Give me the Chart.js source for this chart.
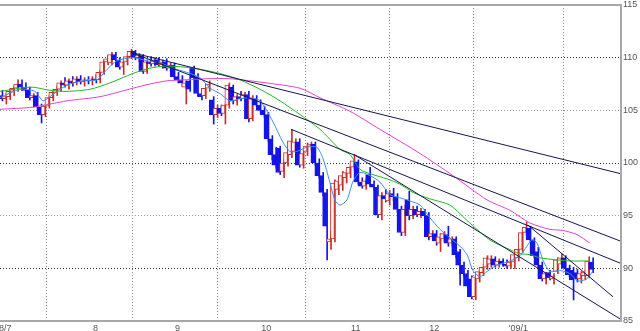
<!DOCTYPE html>
<html>
<head>
<meta charset="utf-8">
<script src="https://cdn.jsdelivr.net/npm/chart.js@4"></script>
<style>
  html, body { margin: 0; background: #fff; }
  #wrap { width: 640px; height: 331px; }
</style>
</head>
<body>
<div id="wrap"><canvas id="chart"></canvas></div>
<script>
// daily candles, Jul 2008 .. mid Jan 2009 (index = trading day)
const opens  = [106.4,106.1,106.3,106.8,107.1,107.5,107.2,106.9,106.2,106.4,105.3,104.6,105.4,106.2,106.7,107.0,107.6,107.4,107.8,107.6,108.0,107.7,107.9,
  107.8,108.0,107.9,108.6,109.6,109.5,110.3,109.8,109.1,109.6,110.1,110.6,110.0,110.2,108.7,109.6,109.4,109.8,109.3,109.6,109.0,
  109.3,108.2,107.9,107.2,107.8,109.0,108.2,106.6,106.4,107.1,106.0,104.6,105.2,104.7,105.5,107.2,105.9,106.3,106.1,106.5,104.2,106.1,
  105.5,105.0,104.6,102.3,100.8,101.4,99.2,100.0,100.8,101.1,102.0,99.8,101.1,101.6,101.8,100.0,98.8,97.2,92.5,92.8,97.5,97.9,98.6,
  99.0,99.6,100.1,98.2,97.8,98.9,98.0,97.7,95.1,96.9,96.4,97.1,96.8,95.6,93.4,96.5,95.0,95.6,95.1,95.4,
  95.0,93.0,93.3,92.4,92.8,93.2,92.4,92.8,91.6,90.3,89.5,89.0,87.3,89.0,89.6,90.1,90.4,90.9,90.3,90.7,90.4,90.2,90.6,
  91.0,91.8,93.4,93.8,92.7,91.6,90.3,89.0,89.6,89.0,89.7,90.4,91.0,90.0,89.8,89.6,89.0,89.3,89.3,90.6];
const highs  = [106.9,106.6,107.0,107.3,107.9,107.9,107.6,107.2,106.6,106.7,105.6,105.6,106.4,106.9,107.3,107.8,108.1,108.0,108.2,108.2,108.3,108.1,108.2,
  108.2,108.4,108.8,109.8,110.2,110.5,110.5,110.0,109.8,110.3,110.8,110.7,110.4,110.3,109.8,110.1,110.0,110.0,109.8,109.9,109.5,
  109.5,108.6,108.3,107.8,108.1,109.2,108.5,107.1,107.3,107.8,106.3,105.5,105.5,105.6,107.6,107.4,106.5,106.8,106.7,106.8,106.4,106.4,
  106.0,105.4,104.8,102.6,101.5,101.6,100.3,101.4,103.2,102.3,102.3,101.2,101.9,102.0,102.0,100.4,99.1,97.5,93.5,98.4,98.6,99.2,99.4,
  99.8,100.8,100.3,98.6,98.5,99.6,98.3,97.9,97.2,97.5,97.4,97.6,97.1,95.9,96.0,97.3,95.9,95.9,95.7,95.6,
  95.3,93.6,93.6,93.3,93.5,94.0,93.0,93.0,91.8,90.6,89.8,89.3,89.5,89.9,90.4,91.2,91.2,91.1,90.9,90.9,90.8,90.9,91.6,
  92.0,93.7,94.4,94.0,92.9,92.0,90.6,89.6,89.8,89.5,91.0,91.4,91.2,90.3,90.1,89.9,89.7,89.8,91.1,91.0];
const lows   = [105.9,105.6,106.0,106.4,106.8,106.9,106.6,106.0,105.8,105.0,103.8,104.4,105.2,105.9,106.4,106.8,107.2,107.0,107.3,107.4,107.5,107.3,107.5,
  107.4,107.6,107.6,108.4,109.3,109.3,109.6,108.9,108.4,109.3,109.9,109.8,109.6,108.5,108.5,109.2,109.2,109.2,109.0,108.8,108.7,
  108.0,107.6,107.3,105.6,106.8,107.9,106.4,106.0,106.1,106.8,103.7,104.3,104.5,103.7,105.2,105.6,105.5,105.9,105.9,103.9,104.0,105.3,
  104.9,104.3,102.0,100.3,99.5,98.9,98.6,99.7,100.5,100.7,99.6,99.5,100.7,101.2,99.8,98.6,96.9,90.8,91.8,92.5,97.0,97.4,98.1,
  98.6,99.3,98.0,97.6,97.5,97.8,97.4,94.8,94.6,96.3,96.0,96.4,95.3,93.1,93.1,94.6,94.7,94.9,94.8,94.8,
  92.7,92.7,92.2,91.6,92.5,92.1,92.1,91.0,88.4,89.2,88.0,87.1,87.0,88.7,89.3,89.9,90.1,90.1,90.1,90.2,90.0,90.0,90.0,
  90.7,91.5,93.1,92.5,91.0,90.0,88.8,88.5,88.9,88.5,89.5,90.2,89.8,89.2,87.0,88.7,88.6,88.9,89.1,89.6];
const closes = [106.1,106.3,106.8,107.1,107.5,107.2,106.9,106.2,106.4,105.3,104.6,105.4,106.2,106.7,107.0,107.6,107.4,107.8,107.6,108.0,107.7,107.9,107.8,
  108.0,107.9,108.6,109.6,109.9,110.3,109.8,109.1,109.6,110.1,110.6,110.0,110.2,108.7,109.6,109.4,109.8,109.3,109.6,109.0,109.3,
  108.2,107.9,107.6,107.6,107.0,108.1,106.6,106.3,107.1,107.5,104.6,105.2,104.7,105.5,107.4,105.9,106.3,106.1,106.5,104.2,106.1,105.5,
  105.0,104.6,102.3,100.8,99.8,99.1,100.0,101.0,102.1,102.0,99.8,100.9,101.6,101.8,100.0,98.8,97.2,94.0,92.8,98.1,98.3,98.8,99.1,
  99.6,100.2,98.2,97.8,98.3,98.0,97.7,95.1,96.9,96.6,97.1,96.8,95.6,93.4,95.6,95.0,95.6,95.1,95.4,95.0,
  93.0,93.3,92.6,93.0,93.3,92.4,92.8,91.3,90.3,89.5,88.3,87.3,89.2,89.7,90.1,91.0,90.9,90.3,90.7,90.4,90.2,90.6,91.3,
  91.8,93.4,93.9,92.7,91.2,90.3,89.0,89.5,89.1,89.3,90.8,91.0,90.0,89.4,88.9,89.0,89.5,89.6,90.7,89.9];

// month gridlines (trading-day index of each month start) and their labels
const monthStarts = [0, 23, 44, 66, 89, 109, 132];
const monthLabels = ["'08/7", "8", "9", "10", "11", "12", "'09/1"];
const yTicks = [85, 90, 95, 100, 105, 110, 115];

// moving averages: [index, value]
const shortMA = [[-0.5,106.2],[4.6,107.0],[8.4,106.8],[10.5,105.9],[12.3,106.3],[14.8,107.0],[17.4,107.5],[20.7,107.8],[24.3,107.9],
  [26.9,108.9],[29.4,109.7],[33.5,110.0],[37.1,109.7],[40.4,109.5],[43.7,109.0],[47.3,108.6],[50.6,108.1],[53.2,107.1],[55.7,106.6],
  [58.3,105.9],[60.8,106.1],[63.4,106.2],[66.0,105.9],[69.3,103.9],[71.8,102.0],[73.6,101.1],[75.4,101.1],[78.0,101.5],[80.5,101.5],
  [82.1,100.4],[83.8,98.2],[85.1,96.5],[86.4,96.0],[88.2,96.5],[89.7,98.2],[91.5,99.1],[94.1,98.8],[96.6,98.2],[99.2,97.0],
  [101.7,96.7],[104.3,96.4],[106.9,96.0],[109.4,94.8],[112.0,93.7],[114.5,92.9],[117.1,92.1],[118.9,91.3],[120.4,89.8],[122.2,89.2],
  [124.0,89.7],[126.5,90.3],[129.9,90.7],[132.4,91.2],[134.2,92.1],[135.5,92.7],[136.8,92.4],[138.3,90.8],[140.1,89.7],[142.6,89.8],
  [145.2,89.5],[147.2,88.8],[149.5,89.0],[151.0,89.7]];
const midMA = [[-0.5,106.8],[4.6,107.1],[7.9,107.2],[12.3,106.9],[16.6,106.8],[22.5,107.0],[27.6,107.6],[33.5,108.5],[37.8,109.0],
  [41.7,109.2],[46.8,109.1],[50.6,108.9],[55.7,108.5],[60.8,107.9],[66.0,107.0],[71.1,105.9],[76.2,104.6],[81.3,103.2],[86.4,101.3],
  [89.0,100.8],[91.5,99.4],[94.8,98.9],[98.4,98.5],[101.7,98.0],[105.1,97.2],[109.4,96.6],[114.5,96.0],[119.6,94.3],[124.7,92.7],
  [129.1,91.9],[132.4,91.4],[135.0,91.3],[137.5,91.0],[141.9,90.8],[145.2,90.7],[150.3,90.7]];
const longMA = [[-0.5,105.1],[7.9,105.3],[16.6,105.9],[25.1,106.3],[33.5,107.1],[37.8,107.5],[42.2,107.8],[47.3,107.9],[52.4,108.0],
  [58.3,108.0],[67.7,107.6],[76.2,107.1],[81.3,106.2],[89.0,104.9],[96.6,103.2],[106.9,100.9],[115.3,98.8],[124.0,96.5],[129.9,95.5],
  [135.0,94.3],[140.1,93.7],[143.4,93.6],[147.0,93.2],[150.3,92.4]];

// hand-drawn trend lines: [[index, value], [index, value]]
const trendLines = [
  [[33.0,110.5],[158,99.0]],
  [[33.0,110.5],[158,92.6]],
  [[73.9,103.2],[158,90.5]],
  [[90.0,100.8],[158,85.2]],
  [[134.5,94.1],[156.2,87.3]]
];

const UP = "#c4302b", DOWN = "#1414e6";
const isUp = closes.map((c, i) => c >= opens[i]);

const frame = {
  id: "frame",
  afterDraw(chart) {
    const { ctx, chartArea: a, scales } = chart;
    ctx.save();
    ctx.strokeStyle = "#a8a8a8";
    ctx.lineWidth = 2;
    ctx.beginPath();
    ctx.moveTo(0, a.top); ctx.lineTo(a.right + 2, a.top);
    ctx.moveTo(0, a.bottom); ctx.lineTo(a.right + 2, a.bottom);
    ctx.moveTo(a.right + 1, a.top); ctx.lineTo(a.right + 1, a.bottom);
    ctx.stroke();

    ctx.fillStyle = "#555";
    ctx.font = '9px "Liberation Sans", Arial, sans-serif';
    ctx.textBaseline = "middle";
    ctx.textAlign = "left";
    yTicks.forEach(v => ctx.fillText(String(v), a.right + 3, scales.y.getPixelForValue(v)));

    ctx.textBaseline = "top";
    monthStarts.forEach((m, i) => {
      const x = scales.x.getPixelForValue(m);
      const lab = monthLabels[i];
      if (lab.includes("/")) { ctx.textAlign = "center"; ctx.fillText(lab, x, a.bottom + 3); }
      else { ctx.textAlign = "left"; ctx.fillText(lab, x + 1, a.bottom + 3); }
    });
    ctx.restore();
  }
};

const line = (pts, color, order) => ({
  type: "line",
  data: pts.map(p => ({ x: p[0], y: p[1] })),
  borderColor: color,
  borderWidth: 1,
  pointRadius: 0,
  tension: 0.25,
  order
});

new Chart(document.getElementById("chart"), {
  type: "bar",
  data: {
    datasets: [
      {
        data: closes.map((c, i) => ({ x: i, y: [lows[i], highs[i]] })),
        backgroundColor: isUp.map(u => u ? UP : DOWN),
        barThickness: 1,
        order: 4
      },
      {
        data: closes.map((c, i) => ({ x: i, y: [opens[i], c] })),
        backgroundColor: isUp.map(u => u ? "#fff4f4" : DOWN),
        borderColor: isUp.map(u => u ? UP : DOWN),
        borderWidth: 1,
        borderSkipped: false,
        barThickness: 4,
        order: 3
      },
      line(longMA, "#e040d0", 2),
      line(midMA, "#22b422", 2),
      line(shortMA, "#3a8ef0", 2),
      ...trendLines.map(t => ({ ...line(t, "#15154f", 1), tension: 0 }))
    ]
  },
  options: {
    responsive: true,
    maintainAspectRatio: false,
    animation: false,
    layout: { padding: { left: 0, right: 20, top: 5, bottom: 10 } },
    plugins: { legend: { display: false }, tooltip: { enabled: false } },
    scales: {
      x: {
        type: "linear",
        min: -0.5, max: 158,
        offset: false,
        afterBuildTicks: s => { s.ticks = monthStarts.map(v => ({ value: v })); },
        ticks: { display: false },
        grid: { color: "#8a8a8a", drawTicks: false },
        border: { display: false, dash: [1, 2] }
      },
      y: {
        min: 85, max: 115,
        afterBuildTicks: s => { s.ticks = yTicks.map(v => ({ value: v })); },
        ticks: { display: false },
        grid: {
          drawTicks: false,
          color: c => (c.tick.value === 85 || c.tick.value === 115) ? "rgba(0,0,0,0)"
            : (c.tick.value % 10 === 0 ? "#333" : "#9a9a9a")
        },
        border: { display: false, dash: [1, 2] }
      }
    }
  },
  plugins: [frame]
});
</script>
</body>
</html>
